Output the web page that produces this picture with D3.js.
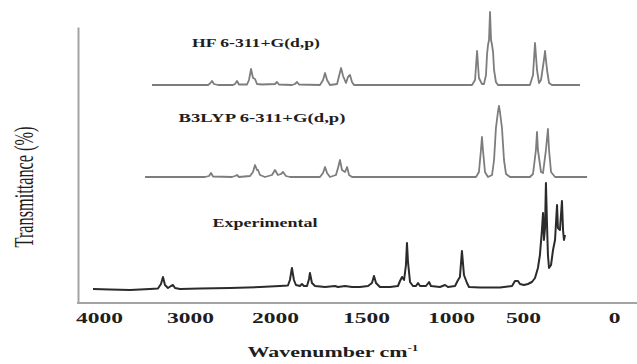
<!DOCTYPE html>
<html>
<head>
<meta charset="utf-8">
<script src="https://cdn.jsdelivr.net/npm/d3@7"></script>
<style>
  html, body { margin: 0; padding: 0; background: #fff; }
  svg { display: block; }
  text { font-family: "Liberation Serif", "Times New Roman", serif; fill: #1e1e1e; }
</style>
</head>
<body>
<svg id="chart" width="637" height="364"></svg>
<script>
// Wavenumber ticks (cm-1) shown on the axis
const tickValues = [4000, 3000, 2000, 1500, 1000, 500, 0];
const tickLabels = ["4000", "3000", "2000", "1500", "1000", "500", "0"];

const seriesNames = ["HF 6-311+G(d,p)", "B3LYP 6-311+G(d,p)", "Experimental"];

// [wavenumber, stacked transmittance (arb.)]
const hfSpectrum = [
  [3418,109],[2788,109],[2765,109.75],[2741,111],[2718,109.5],[2671,109],[2494,109],[2471,109.5],
  [2447,111],[2424,109.25],[2329,109.25],[2306,111.5],[2282,117],[2259,112.5],[2235,112],[2212,109.5],
  [2153,109.25],[2000,109.5],[1989,110.5],[1978,109.25],[1907,109],[1890,109.5],[1879,110.5],[1868,109.25],
  [1753,109],[1736,111.5],[1725,115],[1714,111.5],[1698,109],[1659,109.5],[1648,113.5],[1637,117.5],
  [1626,113.5],[1610,110],[1599,113],[1588,114],[1577,110.5],[1566,109],[854,109],[833,111.5],
  [819,126],[806,112.5],[785,109.5],[771,109.5],[757,114],[750,124],[743,129],[736,131.5],
  [729,145.5],[722,131.5],[715,129],[708,125.5],[701,116.5],[688,110.5],[674,109],[462,109],
  [445,114],[434,130],[423,116.5],[412,110],[401,111.5],[385,121.5],[379,126],[368,116.5],
  [357,110],[341,109],[187,109]
];

const b3lypSpectrum = [
  [3494,63],[2824,63],[2776,63.5],[2753,65],[2729,63.25],[2506,63],[2471,63.5],[2447,64],
  [2424,63],[2294,63.5],[2259,65.5],[2235,69],[2212,66.5],[2200,66.5],[2176,64],[2118,63],
  [2035,64],[2000,66.5],[1984,64],[1967,64.5],[1956,65.5],[1940,63.5],[1918,63],[1753,63],
  [1736,65],[1725,68],[1714,65],[1698,63],[1665,64],[1654,67.5],[1643,71.5],[1632,66.5],
  [1615,65.5],[1604,68],[1593,64],[1577,63],[826,63],[806,65.5],[792,76.5],[785,83],
  [778,76.5],[764,65.5],[743,63],[715,64],[701,71.5],[688,87.5],[674,95.5],[667,98.5],
  [660,95.5],[646,87.5],[632,71.5],[618,64.5],[590,63],[462,63],[445,64.5],[429,76.5],
  [423,85.5],[418,76.5],[401,65.5],[390,65],[374,76.5],[363,87],[357,76.5],[346,65.5],
  [324,63],[148,63]
];

const experimentalSpectrum = [
  [4066,7],[3879,6.75],[3659,6.5],[3440,7],[3352,7.25],[3319,9.5],[3297,13],[3275,9],
  [3242,7.5],[3209,8.5],[3187,9],[3165,7.5],[3110,7],[2882,7.25],[2529,7.5],[2176,8],
  [1973,8.5],[1929,8.75],[1918,11.5],[1907,17.5],[1896,11.5],[1885,9],[1863,8.5],[1852,9.5],
  [1841,8.5],[1824,8.5],[1813,12],[1808,15],[1797,10],[1780,8.5],[1725,8],[1670,8.5],
  [1654,8],[1615,8.5],[1577,8],[1533,8],[1488,8.5],[1465,10],[1453,13.5],[1441,10],
  [1418,8],[1359,8],[1312,8.5],[1300,11],[1288,13],[1276,11.5],[1265,19],[1259,30],
  [1253,20.5],[1241,10.5],[1224,8.5],[1206,8.5],[1194,10],[1182,8.5],[1147,8.5],[1129,10.5],
  [1118,8.5],[1065,8],[1035,9],[1018,8],[972,8.5],[951,11.5],[938,13],[924,26],
  [910,14],[889,10],[875,8],[799,7.75],[660,7.75],[576,8.5],[556,11],[535,11],
  [521,9.5],[495,9],[473,9.5],[451,10.5],[434,12.5],[418,17.5],[407,24],[396,36.5],
  [390,45],[385,31.5],[379,37.5],[374,60],[368,39],[363,24],[357,17.5],[346,19],
  [335,26.5],[324,31.5],[313,49],[308,37.5],[297,36.5],[286,51],[280,36.5],[275,31.5],
  [269,34]
];

const svg = d3.select("#chart");

// Piecewise (polylinear) wavenumber axis: ticks are evenly spread
const x = d3.scaleLinear()
  .domain(tickValues)
  .range([99, 190, 275, 366, 451, 523, 614]);

const y = d3.scaleLinear().domain([0, 138]).range([303, 27]);

const frameColor = "#a3a3a3";

// left frame line
svg.append("g")
  .attr("transform", "translate(78,0)")
  .call(d3.axisLeft(y).tickValues([]).tickSizeOuter(0))
  .select(".domain")
  .attr("stroke", frameColor)
  .attr("stroke-width", 2);

// bottom frame line
svg.append("line")
  .attr("x1", 77).attr("x2", 637)
  .attr("y1", y(0)).attr("y2", y(0))
  .attr("stroke", frameColor)
  .attr("stroke-width", 2);

// x tick labels
const xAxis = svg.append("g")
  .attr("transform", `translate(0,${y(0)})`)
  .call(d3.axisBottom(x)
    .tickValues(tickValues)
    .tickFormat((d, i) => tickLabels[i])
    .tickSize(0)
    .tickPadding(9));
xAxis.select(".domain").remove();
xAxis.selectAll("text")
  .attr("fill", "#1e1e1e")
  .style("font-family", '"Liberation Serif", serif')
  .style("font-size", "15px")
  .style("font-weight", "bold");
const probe = xAxis.select("text").node();
const tickStretch = 47 / probe.getComputedTextLength();
xAxis.selectAll("text").attr("transform", `scale(${tickStretch},1)`);

// spectra
const line = d3.line().x(d => x(d[0])).y(d => y(d[1]));

const series = [
  { data: hfSpectrum, color: "#7d7d7d", width: 1.8 },
  { data: b3lypSpectrum, color: "#7d7d7d", width: 1.8 },
  { data: experimentalSpectrum, color: "#2b2b2b", width: 2 }
];

svg.append("g")
  .selectAll("path")
  .data(series)
  .join("path")
  .attr("d", d => line(d.data))
  .attr("fill", "none")
  .attr("stroke", d => d.color)
  .attr("stroke-width", d => d.width)
  .attr("stroke-linejoin", "round");

// stretch a text element horizontally to a given width around its anchor
function placeText(sel, cx, cy, width, rotate) {
  const w = sel.node().getComputedTextLength();
  const r = rotate ? ` rotate(${rotate})` : "";
  sel.attr("text-anchor", "middle")
    .attr("transform", `translate(${cx},${cy})${r} scale(${width / w},1)`);
}

// series captions
const captionPos = [
  { cx: 256, cy: 47, w: 128 },
  { cx: 262, cy: 122, w: 167 },
  { cx: 265, cy: 227, w: 105 }
];
seriesNames.forEach((name, i) => {
  const t = svg.append("text")
    .text(name)
    .style("font-size", "13px")
    .style("font-weight", "bold");
  placeText(t, captionPos[i].cx, captionPos[i].cy, captionPos[i].w);
});

// axis titles
const xTitle = svg.append("text")
  .style("font-size", "15px")
  .style("font-weight", "bold");
xTitle.append("tspan").text("Wavenumber cm");
xTitle.append("tspan")
  .text("-1")
  .attr("dy", -6)
  .style("font-size", "9px");
placeText(xTitle, 333, 357, 171);

const yTitle = svg.append("text")
  .text("Transmittance (%)")
  .style("font-size", "27px")
  .attr("fill", "#2a2a2a");
placeText(yTitle, 33, 187, 121, -90);
</script>
</body>
</html>
